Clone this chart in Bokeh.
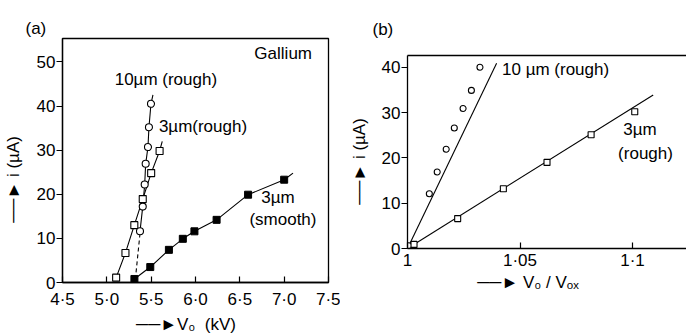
from bokeh.plotting import figure
from bokeh.layouts import row
from bokeh.models import FixedTicker, Label, LinearAxis
from bokeh.embed import file_html
from bokeh.resources import INLINE

FONT = "Liberation Sans"
FS = "17px"
NB = "\u00a0"
ARROW = "──►"

# ---------------- panel (a): Gallium, i versus V0 ----------------
a_xticks = [4.5, 5.0, 5.5, 6.0, 6.5, 7.0, 7.5]
a_xtick_labels = ["4·5", "5·0", "5·5", "6·0", "6·5", "7·0", "7·5"]
a_yticks = [0, 10, 20, 30, 40, 50]

# 10 um (rough), open circles
a_r10_v = [5.374, 5.405, 5.427, 5.438, 5.464, 5.475, 5.498]
a_r10_i = [11.6, 17.2, 22.2, 26.9, 30.7, 35.2, 40.5]
a_r10_line_v = [5.374, 5.405, 5.427, 5.438, 5.464, 5.475, 5.498, 5.52]
a_r10_line_i = [11.6, 17.2, 22.2, 26.9, 30.7, 35.2, 40.5, 42.5]
a_r10_dash_v = [5.374, 5.322]
a_r10_dash_i = [11.1, 0.8]

# 3 um (rough), open squares
a_r3_v = [5.105, 5.21, 5.31, 5.405, 5.50, 5.595]
a_r3_i = [1.1, 6.7, 13.0, 18.9, 24.8, 29.8]
a_r3_line_v = [5.105, 5.21, 5.31, 5.405, 5.50, 5.595, 5.625]
a_r3_line_i = [1.1, 6.7, 13.0, 18.9, 24.8, 29.8, 32.0]

# 3 um (smooth), filled squares
a_s3_v = [5.311, 5.49, 5.70, 5.857, 5.988, 6.238, 6.593, 7.0]
a_s3_i = [0.8, 3.5, 7.4, 9.9, 11.6, 14.2, 19.9, 23.3]
a_s3_line_v = [5.311, 5.49, 5.70, 5.857, 5.988, 6.238, 6.593, 7.0, 7.10]
a_s3_line_i = [0.8, 3.5, 7.4, 9.9, 11.6, 14.2, 19.9, 23.3, 24.8]

# ---------------- panel (b): i versus V0/Vox ----------------
b_xticks = [1.0, 1.05, 1.1]
b_xtick_labels = ["1", "1·05", "1·1"]
b_yticks = [0, 10, 20, 30, 40]

b_r10_x = [1.0005, 1.0097, 1.0132, 1.0172, 1.0208, 1.0247, 1.0284, 1.0322]
b_r10_i = [0.6, 12.1, 16.9, 21.9, 26.6, 30.9, 34.9, 40.0]
b_r10_fit_x = [1.0, 1.0396]
b_r10_fit_i = [0.0, 40.9]

b_r3_x = [1.0029, 1.0223, 1.0426, 1.062, 1.0816, 1.101]
b_r3_i = [0.9, 6.6, 13.2, 19.0, 25.1, 30.2]
b_r3_fit_x = [1.0, 1.1092]
b_r3_fit_i = [0.0, 33.9]


def style_axes(p, xticks, xlabels, yticks, xlabel, ylabel,
               xtstand, xstand, ylstand):
    for ax in p.xaxis:
        ax.ticker = FixedTicker(ticks=xticks)
        ax.major_label_overrides = {t: l for t, l in zip(xticks, xlabels)}
        ax.major_tick_in = 6
        ax.major_tick_out = 0
        ax.minor_tick_line_color = None
        ax.major_label_standoff = xtstand
        ax.axis_label = xlabel
        ax.axis_label_standoff = xstand
    for ax in p.yaxis:
        ax.ticker = FixedTicker(ticks=yticks)
        ax.major_tick_in = 0
        ax.major_tick_out = 6
        ax.minor_tick_line_color = None
        ax.major_label_standoff = 1
        ax.axis_label = ylabel
        ax.axis_label_standoff = ylstand
    for ax in list(p.xaxis) + list(p.yaxis):
        ax.axis_line_color = "black"
        ax.axis_line_width = 1.3
        ax.major_tick_line_color = "black"
        ax.major_tick_line_width = 1.2
        ax.major_label_text_font = FONT
        ax.major_label_text_font_size = FS
        ax.major_label_text_color = "black"
        ax.axis_label_text_font = FONT
        ax.axis_label_text_font_size = FS
        ax.axis_label_text_font_style = "normal"
        ax.axis_label_text_color = "black"
    p.grid.visible = False
    p.background_fill_color = "white"
    p.border_fill_color = "white"
    p.frame_align = False
    p.title.text_font = FONT
    p.title.text_font_size = FS
    p.title.text_font_style = "normal"
    p.title.text_color = "black"
    p.title.align = "left"


def add_text(p, x, y, t, align="left"):
    p.add_layout(Label(x=x, y=y, text=t, text_font=FONT, text_font_size=FS,
                       text_color="black", text_align=align,
                       text_baseline="middle"))


# ---------------- figure (a) ----------------
pa = figure(width=340, height=336, x_range=(4.5, 7.5), y_range=(0, 55.3),
            output_backend="svg", toolbar_location=None, title="(a)",
            min_border_left=60, min_border_right=12,
            min_border_top=38, min_border_bottom=49)
style_axes(pa, a_xticks, a_xtick_labels, a_yticks,
           ARROW + "V₀" + NB * 2 + "(kV)" + NB * 4,
           ARROW + " i (µA)" + NB * 8, 7, 3, 11)
pa.title.offset = -37
pa.title.standoff = 2
pa.outline_line_color = "black"
pa.outline_line_width = 1.3

pa.line(a_r10_dash_v, a_r10_dash_i, line_color="black", line_width=1.1,
        line_dash="4 3")
pa.line(a_r10_line_v, a_r10_line_i, line_color="black", line_width=1.1)
pa.line(a_r3_line_v, a_r3_line_i, line_color="black", line_width=1.1)
pa.line(a_s3_line_v, a_s3_line_i, line_color="black", line_width=1.1)
pa.scatter(a_r3_v, a_r3_i, marker="square", size=7, fill_color="white",
           line_color="black", line_width=1.1)
pa.scatter(a_r10_v, a_r10_i, marker="circle", size=7, fill_color="white",
           line_color="black", line_width=1.1)
pa.scatter(a_s3_v, a_s3_i, marker="square", size=7, fill_color="black",
           line_color="black", line_width=1.0)

add_text(pa, 6.664, 51.9, "Gallium")
add_text(pa, 5.666, 45.9, "10µm (rough)", align="center")
add_text(pa, 5.587, 35.3, "3µm(rough)")
add_text(pa, 6.742, 19.3, "3µm")
add_text(pa, 6.608, 14.2, "(smooth)")

# ---------------- figure (b) ----------------
pb = figure(width=346, height=336, x_range=(1.0, 1.124), y_range=(0, 42.6),
            output_backend="svg", toolbar_location=None, title="(b)",
            min_border_left=67, min_border_right=0,
            min_border_top=54, min_border_bottom=88)
style_axes(pb, b_xticks, b_xtick_labels, b_yticks,
           ARROW + " V₀ / Vₒₓ" + NB * 8, ARROW + " i (µA)" + NB * 4,
           2, 0, 10)
pb.title.offset = -35
pb.title.standoff = 34
pb.outline_line_color = None
top_axis = LinearAxis(ticker=FixedTicker(ticks=[]), major_tick_in=0,
                      major_tick_out=0, minor_tick_line_color=None,
                      major_label_text_font_size="0px",
                      axis_line_color="black", axis_line_width=1.3)
pb.add_layout(top_axis, "above")

pb.line(b_r10_fit_x, b_r10_fit_i, line_color="black", line_width=1.1)
pb.line(b_r3_fit_x, b_r3_fit_i, line_color="black", line_width=1.1)
pb.scatter(b_r10_x, b_r10_i, marker="circle", size=6, fill_color="white",
           line_color="black", line_width=1.1)
pb.scatter(b_r3_x, b_r3_i, marker="square", size=6, fill_color="white",
           line_color="black", line_width=1.1)

add_text(pb, 1.042, 39.5, "10 µm (rough)")
add_text(pb, 1.0959, 26.3, "3µm")
add_text(pb, 1.0936, 21.0, "(rough)")

layout = row(pa, pb)
open("out.html", "w").write(file_html(layout, INLINE))
